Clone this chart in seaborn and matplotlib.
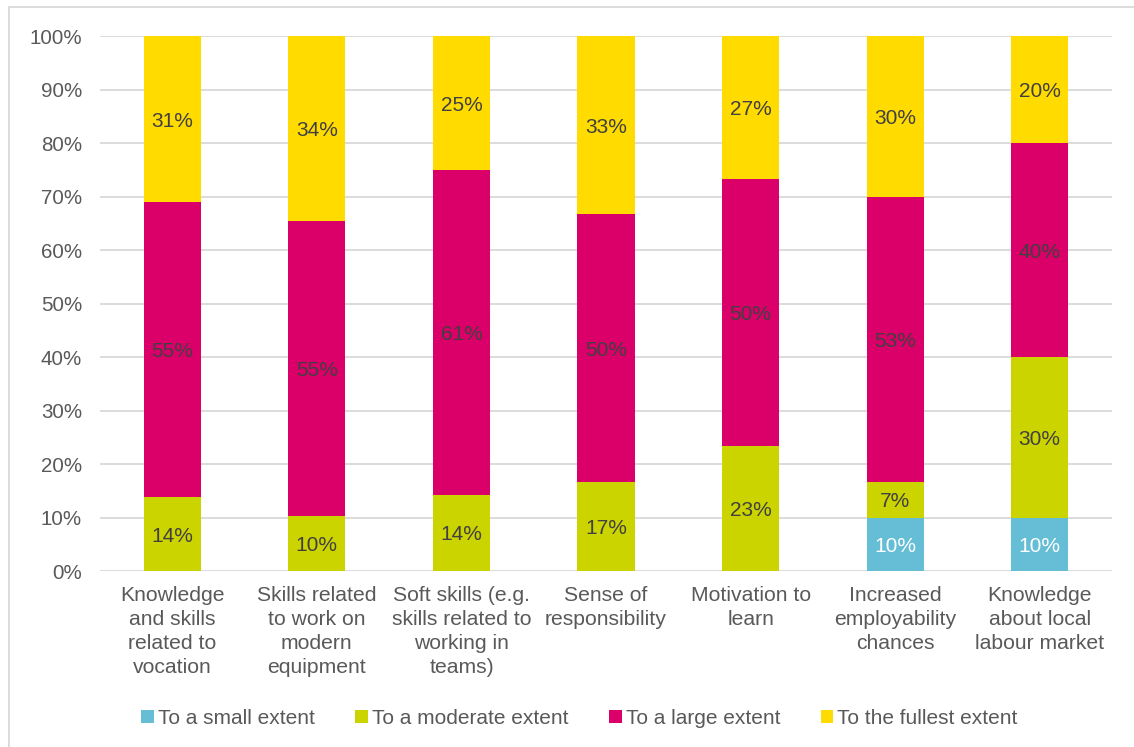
import matplotlib
matplotlib.use("Agg")
import matplotlib.pyplot as plt
from matplotlib.lines import Line2D
from matplotlib.patches import Patch
import numpy as np
import pandas as pd
import seaborn as sns

# Survey results: share of respondents per answer, by skill area (percent)
categories = [
    "Knowledge\nand skills\nrelated to\nvocation",
    "Skills related\nto work on\nmodern\nequipment",
    "Soft skills (e.g.\nskills related to\nworking in\nteams)",
    "Sense of\nresponsibility",
    "Motivation to\nlearn",
    "Increased\nemployability\nchances",
    "Knowledge\nabout local\nlabour market",
]
series_names = ["To a small extent", "To a moderate extent",
                "To a large extent", "To the fullest extent"]
small_extent = [0.0, 0.0, 0.0, 0.0, 0.0, 10.0, 10.0]
moderate_extent = [13.8, 10.3, 14.3, 16.7, 23.3, 6.7, 30.0]
large_extent = [55.2, 55.2, 60.7, 50.0, 50.0, 53.3, 40.0]
fullest_extent = [31.0, 34.5, 25.0, 33.3, 26.7, 30.0, 20.0]
y_ticks = [0, 10, 20, 30, 40, 50, 60, 70, 80, 90, 100]

colors = ["#66BED6", "#CCD400", "#DB0069", "#FFDB00"]
label_colors = ["white", "#404040", "#404040", "#404040"]
text_gray = "#595959"
grid_gray = "#D9D9D9"

sns.set_theme(style="white")
plt.rcParams["font.family"] = ["Liberation Sans", "DejaVu Sans"]

values = np.array([small_extent, moderate_extent, large_extent, fullest_extent])
cum = np.cumsum(values, axis=0)
bottoms = cum - values

fig = plt.figure(figsize=(11.34, 7.47), dpi=100)
ax = fig.add_axes([0.0882, 0.2356, 0.9806 - 0.0882, 0.9518 - 0.2356])

# Stack by layering cumulative totals, tallest first
for i in reversed(range(len(series_names))):
    df = pd.DataFrame({"category": categories, "total": cum[i]})
    sns.barplot(data=df, x="category", y="total", color=colors[i],
                width=0.395, linewidth=0, saturation=1, ax=ax, zorder=3)

# Value labels centred in each segment
for i in range(len(series_names)):
    for j in range(len(categories)):
        v = values[i, j]
        if v <= 0:
            continue
        ax.text(j, bottoms[i, j] + v / 2 - 0.4, f"{v:.0f}%", ha="center",
                va="center", fontsize=15, color=label_colors[i], zorder=5)

ax.set_ylim(0, 100)
ax.set_xlim(-0.5, len(categories) - 0.5)
ax.set_yticks(y_ticks)
ax.set_yticklabels([f"{t}%" for t in y_ticks])
ax.set_xlabel("")
ax.set_ylabel("")
for t in y_ticks:
    ax.axhline(t, color=grid_gray, linewidth=1.3, zorder=1)
for s in ax.spines.values():
    s.set_visible(False)
ax.tick_params(axis="y", length=0, pad=13, labelsize=14.8, labelcolor=text_gray)
ax.tick_params(axis="x", length=0, pad=11, labelsize=15.2, labelcolor=text_gray)
for lbl in ax.get_xticklabels():
    lbl.set_linespacing(1.33)

handles = [Patch(facecolor=c, edgecolor="none") for c in colors]
fig.legend(handles, series_names, loc="center", bbox_to_anchor=(0.511, 0.0385),
           ncol=4, frameon=False, fontsize=15, labelcolor=text_gray,
           handlelength=0.6, handleheight=0.6, handletextpad=0.2,
           columnspacing=1.95)

# Chart frame edges
fig.add_artist(Line2D([9 / 1134, 9 / 1134], [0, 1 - 7 / 747], color=grid_gray,
                      linewidth=1.3, transform=fig.transFigure))
fig.add_artist(Line2D([9 / 1134, 1], [1 - 7 / 747, 1 - 7 / 747], color=grid_gray,
                      linewidth=1.3, transform=fig.transFigure))

fig.savefig("out.png", dpi=100)
